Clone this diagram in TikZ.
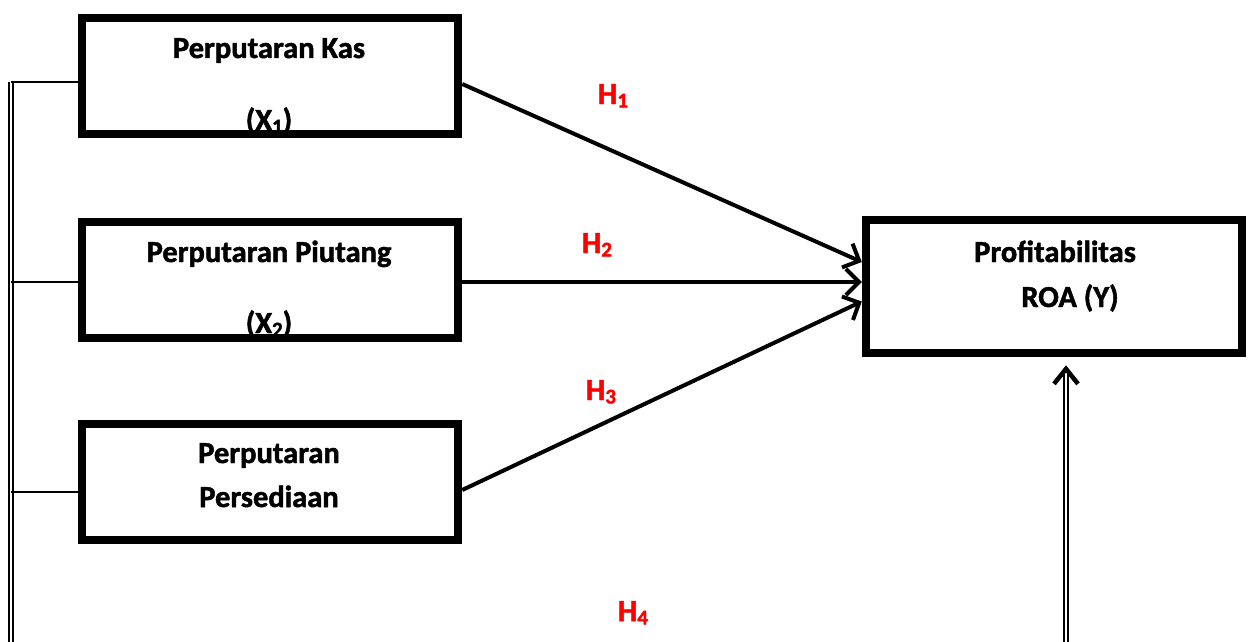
\documentclass[tikz,border=0pt]{standalone}
\usepackage{fontspec}
\setmainfont{Carlito}[BoldFeatures={FakeBold=1.6}]
\usetikzlibrary{arrows.meta}
% subscript digit set just below the baseline
\newcommand\lowidx[1]{\raisebox{-3.5pt}{\fontsize{21}{22}\selectfont #1}}
\begin{document}
\begin{tikzpicture}[x=1pt,y=-1pt,
  box/.style={draw, line width=8.5pt, inner sep=0pt,
    minimum width=376pt, minimum height=116pt},
  ybox/.style={box, minimum height=133pt},
  lbl/.style={inner sep=0pt, anchor=base,
    font=\bfseries\fontsize{30.5}{34}\selectfont},
  hyp/.style={lbl, text=red},
  link/.style={line width=4pt,
    -{Straight Barb[length=13pt, width=26pt, line width=4pt]}},
  tie/.style={line width=2.5pt},
  rail/.style={double, line width=1.8pt, double distance=1.8pt},
]
\useasboundingbox (0,0) rectangle (1250,642);

% variable boxes
\node[box]  (kas)  at (270,76)    {};
\node[box]  (piu)  at (270,280)   {};
\node[box]  (pers) at (270,482)   {};
\node[ybox] (roa)  at (1054,286.5) {};

% box texts
\node[lbl] (kas-a)  at (269,58)  {Perputaran Kas};
\node[lbl] (kas-b)  at (269,130) {(X\lowidx{1})};
\node[lbl] (piu-a)  at (269,262) {Perputaran Piutang};
\node[lbl] (piu-b)  at (269,333) {(X\lowidx{2})};
\node[lbl] (pers-a) at (269,463) {Perputaran};
\node[lbl] (pers-b) at (269,507) {Persediaan};
\node[lbl] (roa-a)  at (1055,262) {Profitabilitas};
\node[lbl] (roa-b)  at (1070,307) {ROA (Y)};

% hypothesis labels
\node[hyp] (h1) at (613,104) {H\lowidx{1}};
\node[hyp] (h2) at (597,253) {H\lowidx{2}};
\node[hyp] (h3) at (601,400) {H\lowidx{3}};
\node[hyp] (h4) at (633,621) {H\lowidx{4}};

% partial effects
\draw[link] ([yshift=-8pt]kas.east)   -- ([yshift=24.5pt]roa.west);
\draw[link] ([yshift=-2pt]piu.east)   -- ([yshift=4.5pt]roa.west);
\draw[link] ([yshift=-8pt]pers.east)  -- ([yshift=-15pt]roa.west);

% simultaneous effect: rail joining all independent variables
\coordinate (r1)   at (11,82);
\coordinate (r2)   at (11,282);
\coordinate (r3)   at (11,492);
\coordinate (rbot) at (11,642);
\coordinate (ybot) at (1066,642);
\draw[rail] (rbot) -- (r1);
\draw[tie] (r1) -- (r1 -| kas.west);
\draw[tie] (r2) -- (r2 -| piu.west);
\draw[tie] (r3) -- (r3 -| pers.west);
\draw[rail, -{Straight Barb[length=15pt, width=24pt, line width=4.5pt]}]
  (ybot) -- ([yshift=-8pt]roa.south -| ybot);
\end{tikzpicture}
\end{document}
